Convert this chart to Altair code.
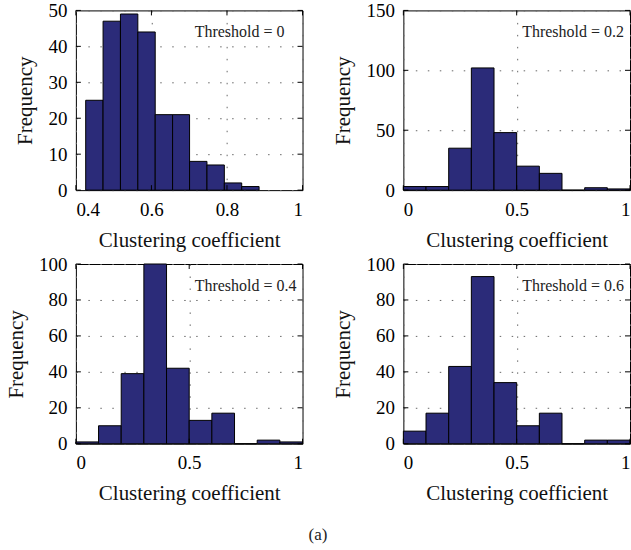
import altair as alt
import pandas as pd

# ---- data ----
p1_start = [0.426, 0.472, 0.518, 0.564, 0.610, 0.656, 0.701, 0.747, 0.793, 0.839]
p1_end = [0.472, 0.518, 0.564, 0.610, 0.656, 0.701, 0.747, 0.793, 0.839, 0.885]
p1_count = [25, 47, 49, 44, 21, 21, 8, 7, 2, 1]

bin_start = [0.0, 0.1, 0.2, 0.3, 0.4, 0.5, 0.6, 0.7, 0.8, 0.9]
bin_end = [0.1, 0.2, 0.3, 0.4, 0.5, 0.6, 0.7, 0.8, 0.9, 1.0]
p2_count = [3, 3, 35, 102, 48, 20, 14, 0, 2, 1]
p3_count = [1, 10, 39, 100, 42, 13, 17, 0, 2, 1]
p4_count = [7, 17, 43, 93, 34, 10, 17, 0, 2, 2]

p1_xticks = [0.4, 0.6, 0.8, 1.0]
x_ticks = [0.0, 0.5, 1.0]
p1_yticks = [0, 10, 20, 30, 40, 50]
p2_yticks = [0, 50, 100, 150]
p34_yticks = [0, 20, 40, 60, 80, 100]

labels = ["Threshold = 0", "Threshold = 0.2", "Threshold = 0.4", "Threshold = 0.6"]

FONT = "Liberation Serif"
W, H = 227, 180
BAR = "#2b2b79"
TICK = 5


def panel(starts, ends, counts, xdom, xticks, ymax, yticks, label):
    df = pd.DataFrame({"x0": starts, "x1": ends, "n": counts})
    xs = alt.Scale(domain=xdom, nice=False, zero=False)
    ys = alt.Scale(domain=[0, ymax], nice=False)
    xaxis = alt.Axis(values=xticks, format="~g", grid=True, labelOverlap=False,
                     title="Clustering coefficient")
    yaxis = alt.Axis(values=yticks, grid=True, labelOverlap=False, title="Frequency")
    bars = alt.Chart(df).mark_bar(fill=BAR, stroke="black", strokeWidth=1).encode(
        x=alt.X("x0:Q", scale=xs, axis=xaxis),
        x2="x1:Q",
        y=alt.Y("n:Q", scale=ys, axis=yaxis),
        y2=alt.datum(0),
    )
    xt = pd.DataFrame({"t": xticks})
    yt = pd.DataFrame({"t": yticks})
    tx_top = alt.Chart(xt).mark_rule(color="black", strokeWidth=1).encode(
        x=alt.X("t:Q", scale=xs, axis=xaxis), y=alt.value(0), y2=alt.value(TICK))
    tx_bot = alt.Chart(xt).mark_rule(color="black", strokeWidth=1).encode(
        x=alt.X("t:Q", scale=xs, axis=xaxis), y=alt.value(H), y2=alt.value(H - TICK))
    ty_left = alt.Chart(yt).mark_rule(color="black", strokeWidth=1).encode(
        y=alt.Y("t:Q", scale=ys, axis=yaxis), x=alt.value(0), x2=alt.value(TICK))
    ty_right = alt.Chart(yt).mark_rule(color="black", strokeWidth=1).encode(
        y=alt.Y("t:Q", scale=ys, axis=yaxis), x=alt.value(W), x2=alt.value(W - TICK))
    txt = alt.Chart(pd.DataFrame({"label": [label]})).mark_text(
        align="left", baseline="middle", font=FONT, fontSize=16, color="#222"
    ).encode(x=alt.value(119), y=alt.value(22), text="label:N")
    return alt.layer(bars, tx_top, tx_bot, ty_left, ty_right, txt).properties(width=W, height=H)


c1 = panel(p1_start, p1_end, p1_count, [0.4, 1.0], p1_xticks, 50, p1_yticks, labels[0])
c2 = panel(bin_start, bin_end, p2_count, [0.0, 1.0], x_ticks, 150, p2_yticks, labels[1])
c3 = panel(bin_start, bin_end, p3_count, [0.0, 1.0], x_ticks, 100, p34_yticks, labels[2])
c4 = panel(bin_start, bin_end, p4_count, [0.0, 1.0], x_ticks, 100, p34_yticks, labels[3])

chart = alt.concat(
    c1, c2, c3, c4, columns=2,
    spacing=alt.RowColnumber(row=3, column=29),
).properties(
    padding={"left": 5, "top": 0, "right": 0, "bottom": 0},
    title=alt.TitleParams("(a)", orient="bottom", font=FONT, fontSize=17,
                          fontWeight="normal", color="#222", offset=23, anchor="middle"),
).configure_view(
    stroke="black", strokeWidth=1
).configure_axis(
    labelFont=FONT, labelFontSize=19, labelColor="black", labelOverlap=False,
    titleFont=FONT, titleFontSize=21, titleFontWeight="normal", titleColor="#111",
    domain=False, tickSize=0, labelPadding=9,
    gridColor="#666", gridDash=[1.5, 10.5], gridWidth=1,
).configure_axisX(
    titlePadding=10, labelPadding=10,
).configure_axisY(
    titlePadding=12,
)

chart.save("out.html", embed_options={"renderer": "svg", "actions": False})
